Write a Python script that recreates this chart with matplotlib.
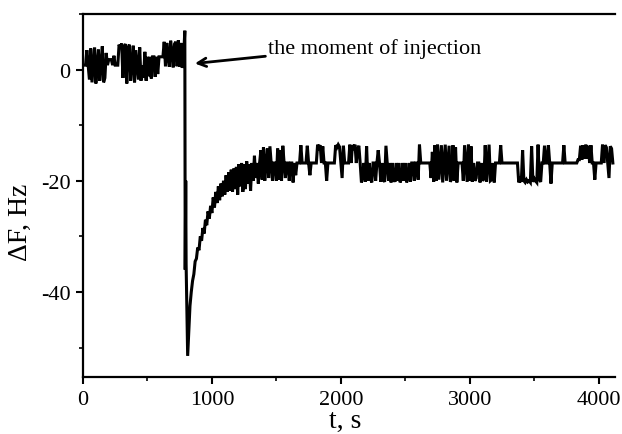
import numpy as np
import matplotlib.pyplot as plt
from matplotlib.ticker import MultipleLocator

plt.rcParams['font.family'] = ['Liberation Serif', 'DejaVu Serif']
plt.rcParams['axes.unicode_minus'] = False

# baseline before injection, every 10 s from t = 0
base_start, base_step = 0, 10
base_vals = [
    0.8, 0.8, 0.8, 3.5, 0.8, -1.8, 3.8, -2.3, 0.8, 4.0,
    -2.5, 0.8, 3.6, -2.0, 0.8, 4.2, -2.3, -1.5, 3.0, 0.8,
    1.8, 1.8, 1.8, 0.8, 2.5, 0.8, 0.8, 0.8, 4.5, 3.8,
    4.7, -1.5, 4.2, 4.6, -2.5, 3.8, 4.5, -2.0, 0.8, 4.3,
    -2.3, 3.5, 0.8, -1.8, 4.0, -2.0, 0.8, -1.5, 3.2, -2.0,
    2.3, -1.2, 2.3, -1.6, 2.3, 2.3, -1.3, 2.3, -0.8, 2.3,
    2.3, 2.3, 2.3, 5.0, 0.6, 4.8, 2.3, 0.5, 5.2, 3.0,
    0.4, 4.6, 5.0, 0.6, 5.3, 0.5, 4.8, 0.3, 2.0,
]

# injection moment
inj_t = [790, 793, 797, 800, 812]
inj_vals = [7.0, -36.0, -20.0, -35.0, -51.5]

# recovery, every 10 s from t = 830
rec_start, rec_step = 830, 10
rec_vals = [
    -42.5, -40.0, -38.0, -36.8, -34.5, -34.0, -32.0, -32.5, -30.0, -30.8,
    -28.5, -29.5, -27.0, -28.0, -25.5, -26.8, -24.5, -25.8, -23.0, -24.8,
    -22.0, -24.0, -21.0, -23.5, -20.5, -22.8, -20.0, -22.5, -19.0, -22.0,
    -18.5, -21.8, -18.0, -22.0, -17.8, -21.5, -17.5, -22.5, -17.0, -21.0,
    -16.8, -22.0, -17.0, -21.5, -16.5, -20.5, -17.0, -21.8, -16.8, -20.0,
    -15.5, -19.5, -16.8, -20.5, -16.8, -14.5, -19.8, -14.0, -20.0, -16.8,
    -14.2, -19.5, -13.8, -16.8, -20.0, -16.8,
]

# plateau, every 10 s from t = 1490
plat_start, plat_step = 1490, 10
plat_vals = [
    -16.8, -20.0, -14.2, -19.8, -14.5, -20.0, -13.7, -16.8, -19.5, -16.8,
    -16.8, -20.0, -16.8, -16.8, -20.3, -16.8, -19.0, -16.8, -16.8, -16.8,
    -13.6, -16.8, -16.8, -16.8, -16.8, -13.7, -16.8, -19.0, -16.8, -16.8,
    -16.8, -16.8, -16.8, -13.5, -14.0, -13.6, -16.8, -13.8, -16.8, -16.8,
    -20.0, -16.8, -16.8, -16.8, -16.8, -16.8, -16.8, -13.6, -14.0, -13.5,
    -13.9, -16.8, -19.5, -13.7, -16.8, -16.8, -16.8, -16.8, -13.5, -16.8,
    -13.6, -14.0, -13.5, -16.8, -14.2, -13.7, -16.8, -20.3, -19.0, -16.8,
    -20.2, -13.8, -20.0, -16.8, -19.5, -20.3, -16.8, -16.8, -20.0, -16.8,
    -14.5, -16.8, -20.2, -16.8, -19.8, -20.2, -13.7, -16.8, -20.0, -16.8,
    -20.3, -16.8, -19.5, -20.2, -16.8, -20.0, -16.8, -20.3, -19.6, -16.8,
    -20.0, -16.8, -20.3, -19.5, -16.8, -20.2, -16.8, -16.8, -20.0, -16.8,
    -16.8, -19.8, -13.5, -16.8, -16.8, -16.8, -16.8, -16.8, -16.8, -16.8,
    -16.8, -19.5, -14.8, -20.2, -13.6, -20.0, -13.5, -19.8, -16.8, -13.6,
    -20.3, -16.8, -13.5, -20.0, -16.8, -13.7, -20.2, -19.5, -13.6, -20.0,
    -14.0, -20.3, -16.8, -16.8, -16.8, -16.8, -20.0, -13.6, -16.8, -20.2,
    -13.5, -20.0, -13.8, -20.2, -16.8, -20.0, -19.5, -16.8, -16.8, -20.3,
    -16.8, -20.0, -19.6, -13.6, -20.2, -16.8, -13.5, -20.0, -19.8, -16.8,
    -20.3, -16.8, -16.8, -16.8, -16.8, -13.6, -16.8, -16.8, -16.8, -16.8,
    -16.8, -16.8, -16.8, -16.8, -16.8, -16.8, -16.8, -16.8, -16.8, -20.3,
    -19.8, -20.2, -14.5, -20.0, -20.3, -19.8, -20.2, -20.0, -20.3, -13.8,
    -20.2, -19.6, -20.0, -20.3, -13.5, -19.8, -20.2, -16.8, -16.8, -13.7,
    -16.8, -16.8, -13.6, -16.8, -20.5, -16.8, -16.8, -16.8, -16.8, -16.8,
    -16.8, -16.8, -16.8, -16.8, -13.6, -16.8, -16.8, -16.8, -16.8, -16.8,
    -16.8, -16.8, -16.8, -16.8, -16.8, -16.2, -16.2, -13.7, -16.2, -13.6,
    -16.0, -13.5, -16.0, -13.7, -16.8, -13.6, -16.8, -16.8, -19.8, -16.8,
    -16.8, -16.8, -16.8, -16.8, -13.5, -16.8, -13.6, -14.0, -16.8, -19.5,
    -13.8, -14.2, -16.8,
]

t = np.concatenate([
    base_start + base_step * np.arange(len(base_vals)),
    inj_t,
    rec_start + rec_step * np.arange(len(rec_vals)),
    plat_start + plat_step * np.arange(len(plat_vals)),
])
dF = np.concatenate([base_vals, inj_vals, rec_vals, plat_vals])

fig = plt.figure(figsize=(6.22, 4.35), dpi=100)
ax = fig.add_axes([0.1334, 0.131, 0.855, 0.8345])
ax.plot(t, dF, color='black', lw=2.2, solid_joinstyle='miter')

ax.set_xlim(0, 4125)
ax.set_ylim(-55.3, 10)
ax.xaxis.set_major_locator(MultipleLocator(1000))
ax.xaxis.set_minor_locator(MultipleLocator(500))
ax.yaxis.set_major_locator(MultipleLocator(20))
ax.yaxis.set_minor_locator(MultipleLocator(10))

ax.spines['right'].set_visible(False)
for s in ['left', 'bottom', 'top']:
    ax.spines[s].set_linewidth(1.6)
ax.tick_params(which='major', direction='out', length=5, width=1.5,
               labelsize=16, pad=4, top=False, right=False)
ax.tick_params(which='minor', direction='out', length=3, width=1.2,
               top=False, right=False)

ax.set_xlabel('t, s', fontsize=20)
ax.set_ylabel('ΔF, Hz', fontsize=20)
ax.xaxis.set_label_coords(0.4925, -0.085)
ax.yaxis.set_label_coords(-0.094, 0.43)

ax.text(1434, 3.9, 'the moment of injection', fontsize=16,
        ha='left', va='center')
ax.annotate('', xy=(868, 1.1), xytext=(1415, 2.4),
            arrowprops=dict(arrowstyle='->,head_length=0.6,head_width=0.3',
                            lw=2, color='black', shrinkA=0, shrinkB=0))

fig.savefig('out.png', dpi=100)
